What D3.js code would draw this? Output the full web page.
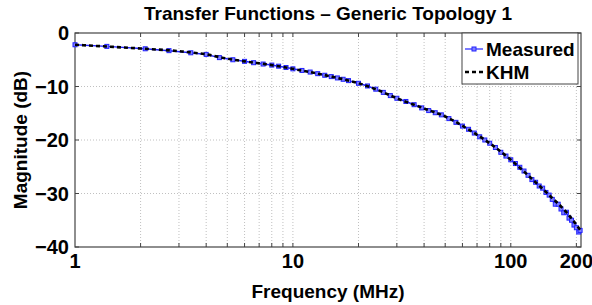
<!DOCTYPE html>
<html>
<head>
<meta charset="utf-8">
<script src="https://cdn.jsdelivr.net/npm/d3@7"></script>
<style>
  body { margin: 0; background: #fff; }
  text { font-family: "Liberation Sans", Arial, sans-serif; font-weight: bold; }
</style>
</head>
<body>
<script>
// data
var measFreq = [1, 1.4, 2.1, 2.7, 3.4, 4, 4.6, 5.3, 6, 6.6, 7.3, 8, 8.6, 9.3, 10, 11, 12, 13, 14, 15, 16, 17, 18, 20, 22, 24, 26, 28, 30, 33, 36, 39, 42, 45, 48, 52, 56, 60, 64, 68, 72, 76, 80, 85, 90, 95, 100, 105, 110, 115, 120, 125, 130, 135, 140, 145, 150, 155, 160, 165, 170, 175, 180, 185, 190, 195, 200, 205, 208];
var measDb = [-2.2, -2.5, -2.95, -3.3, -3.7, -4.0, -4.6, -5.0, -5.3, -5.55, -5.8, -6.0, -6.2, -6.45, -6.7, -7.0, -7.3, -7.6, -7.9, -8.15, -8.4, -8.65, -8.9, -9.4, -9.9, -10.5, -11.1, -11.7, -12.2, -12.8, -13.4, -14.0, -14.5, -14.9, -15.3, -16.0, -16.7, -17.4, -18.0, -18.7, -19.4, -20.0, -20.6, -21.4, -22.3, -23.0, -23.7, -24.4, -25.1, -25.8, -26.6, -27.4, -27.9, -28.6, -29.0, -29.8, -30.3, -31.1, -32.0, -32.0, -32.9, -33.6, -33.5, -34.6, -35.0, -35.9, -36.4, -37.2, -36.9];
var khmFreq = [1, 1.5, 2, 3, 4, 5, 6, 8, 10, 13, 16, 20, 25, 30, 40, 50, 65, 80, 100, 120, 150, 180, 210];
var khmDb = [-2.2, -2.6, -2.9, -3.4, -4.0, -4.8, -5.3, -6.0, -6.7, -7.6, -8.4, -9.4, -10.8, -12.2, -14.1, -15.6, -18.2, -20.6, -23.7, -26.6, -30.3, -33.5, -37.0];
var xLabelTicks = [1, 10, 100, 200];
var xGrid = [2, 3, 4, 5, 6, 7, 8, 9, 10, 20, 30, 40, 50, 60, 70, 80, 90, 100, 200];
var yTicks = [0, -10, -20, -30, -40];

var W = 592, H = 305;
var pL = 75, pT = 33, pR = 581, pB = 247;

var svg = d3.select('body').append('svg')
    .attr('width', W)
    .attr('height', H);

var x = d3.scaleLog().domain([1, 210]).range([pL, pR]);
var y = d3.scaleLinear().domain([-40, 0]).range([pB, pT]);

// grid
svg.selectAll('.vgrid').data(xGrid).enter().append('line')
    .attr('x1', d => x(d)).attr('x2', d => x(d))
    .attr('y1', pT).attr('y2', pB)
    .attr('stroke', '#b0b0b0').attr('stroke-width', 0.8)
    .attr('stroke-dasharray', '1,2');
svg.selectAll('.hgrid').data(yTicks.slice(1, 4)).enter().append('line')
    .attr('x1', pL).attr('x2', pR)
    .attr('y1', d => y(d)).attr('y2', d => y(d))
    .attr('stroke', '#b0b0b0').attr('stroke-width', 0.8)
    .attr('stroke-dasharray', '1,2');

// tick marks inside the box
svg.selectAll('.tb').data(xGrid).enter().append('line')
    .attr('x1', d => x(d)).attr('x2', d => x(d))
    .attr('y1', pB).attr('y2', pB - 4)
    .attr('stroke', '#444');
svg.selectAll('.tt').data(xGrid).enter().append('line')
    .attr('x1', d => x(d)).attr('x2', d => x(d))
    .attr('y1', pT).attr('y2', pT + 4)
    .attr('stroke', '#444');
svg.selectAll('.tl').data(yTicks).enter().append('line')
    .attr('x1', pL).attr('x2', pL + 4)
    .attr('y1', d => y(d)).attr('y2', d => y(d))
    .attr('stroke', '#444');
svg.selectAll('.tr').data(yTicks).enter().append('line')
    .attr('x1', pR).attr('x2', pR - 4)
    .attr('y1', d => y(d)).attr('y2', d => y(d))
    .attr('stroke', '#444');

// box
svg.append('rect')
    .attr('x', pL).attr('y', pT)
    .attr('width', pR - pL).attr('height', pB - pT)
    .attr('fill', 'none').attr('stroke', '#444').attr('stroke-width', 1.2);

// tick labels
svg.selectAll('.xl').data(xLabelTicks).enter().append('text')
    .attr('x', d => x(d)).attr('y', 268)
    .attr('text-anchor', 'middle')
    .attr('font-size', 20)
    .text(d => d);
svg.selectAll('.yl').data(yTicks).enter().append('text')
    .attr('x', 69).attr('y', d => y(d) + 7)
    .attr('text-anchor', 'end')
    .attr('font-size', 20)
    .text(d => d < 0 ? '\u2212' + Math.abs(d) : d);

// series
var measPts = measFreq.map((f, i) => [f, measDb[i]]);
var khmPts = khmFreq.map((f, i) => [f, khmDb[i]]);
var line = d3.line().x(d => x(d[0])).y(d => y(d[1]));

svg.append('path').datum(measPts)
    .attr('d', line)
    .attr('fill', 'none')
    .attr('stroke', '#2222ff')
    .attr('stroke-width', 1.5);
svg.selectAll('.mk').data(measPts).enter().append('rect')
    .attr('x', d => x(d[0]) - 2).attr('y', d => y(d[1]) - 2)
    .attr('width', 4).attr('height', 4)
    .attr('fill', '#8080ff')
    .attr('stroke', '#2222ff')
    .attr('stroke-width', 1);

svg.append('path').datum(khmPts)
    .attr('d', line.curve(d3.curveMonotoneX))
    .attr('fill', 'none')
    .attr('stroke', '#000')
    .attr('stroke-width', 2.6)
    .attr('stroke-dasharray', '4,3');

// legend
var lg = svg.append('g');
lg.append('rect')
    .attr('x', 462).attr('y', 33)
    .attr('width', 116).attr('height', 51)
    .attr('fill', '#fff').attr('stroke', '#444').attr('stroke-width', 1);
lg.append('line')
    .attr('x1', 465).attr('x2', 483).attr('y1', 49).attr('y2', 49)
    .attr('stroke', '#2222ff').attr('stroke-width', 1.2);
lg.append('rect')
    .attr('x', 472).attr('y', 47).attr('width', 4).attr('height', 4)
    .attr('fill', '#8080ff').attr('stroke', '#2222ff');
lg.append('line')
    .attr('x1', 465).attr('x2', 483).attr('y1', 72).attr('y2', 72)
    .attr('stroke', '#000').attr('stroke-width', 2.6)
    .attr('stroke-dasharray', '4,3');
lg.append('text').attr('x', 486).attr('y', 56).attr('font-size', 19).text('Measured');
lg.append('text').attr('x', 486).attr('y', 79).attr('font-size', 19).text('KHM');

// titles
svg.append('text')
    .attr('x', (pL + pR) / 2).attr('y', 20)
    .attr('text-anchor', 'middle')
    .attr('font-size', 19)
    .text('Transfer Functions \u2013 Generic Topology 1');
svg.append('text')
    .attr('x', (pL + pR) / 2).attr('y', 298)
    .attr('text-anchor', 'middle')
    .attr('font-size', 19)
    .text('Frequency (MHz)');
svg.append('text')
    .attr('transform', 'translate(27,' + (pT + pB) / 2 + ') rotate(-90)')
    .attr('text-anchor', 'middle')
    .attr('font-size', 19)
    .text('Magnitude (dB)');
</script>
</body>
</html>
